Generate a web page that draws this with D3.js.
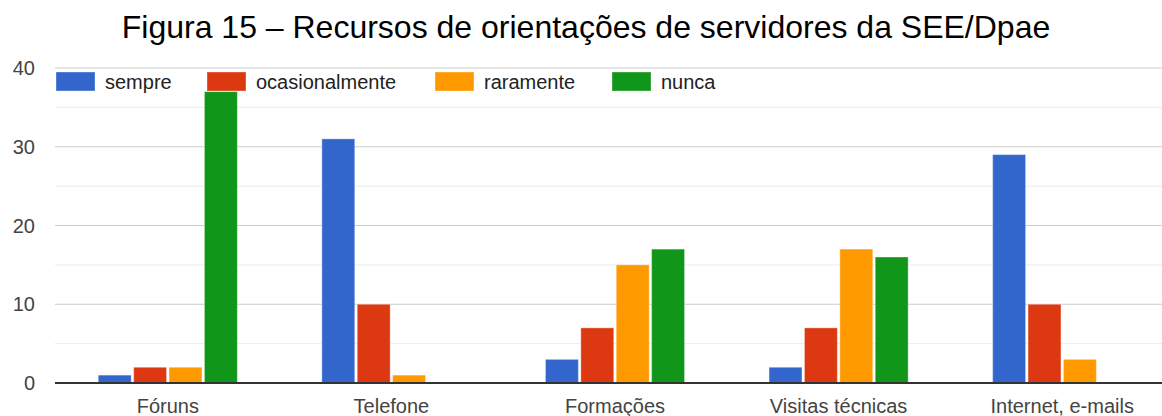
<!DOCTYPE html>
<meta charset="utf-8">
<style>
body { margin: 0; background: #fff; }
.title { font-family: "Liberation Sans", Arial, sans-serif; font-size: 32px; fill: #000; }
.tick text { font-family: "Liberation Sans", Arial, sans-serif; font-size: 20px; fill: #444; }
.legend text { font-family: "Liberation Sans", Arial, sans-serif; font-size: 20px; fill: #222; }
</style>
<body>
<script src="https://d3js.org/d3.v7.min.js"></script>
<script>

// data
var categories = ["Fóruns", "Telefone", "Formações", "Visitas técnicas", "Internet, e-mails"];
var seriesNames = ["sempre", "ocasionalmente", "raramente", "nunca"];
var sempre = [1, 31, 3, 2, 29];
var ocasionalmente = [2, 10, 7, 7, 10];
var raramente = [2, 1, 15, 17, 3];
var nunca = [37, 0, 17, 16, 0];
var colors = ["#3366cc", "#dc3912", "#ff9900", "#109618"];
var yTicks = [0, 10, 20, 30, 40];
var yMinor = [5, 15, 25, 35];

var series = [sempre, ocasionalmente, raramente, nunca];

var W = 1162, H = 416;

var svg = d3.select("body").append("svg")
    .attr("width", W)
    .attr("height", H);

// title
svg.append("text")
    .attr("class", "title")
    .attr("x", 586)
    .attr("y", 38)
    .attr("text-anchor", "middle")
    .text("Figura 15 – Recursos de orientações de servidores da SEE/Dpae");

// scales (plot runs a bit past the right edge, as in the cropped original)
var x0 = d3.scaleBand()
    .domain(categories)
    .range([56, 1174])
    .paddingInner(0.378)
    .paddingOuter(0.189);

var x1 = d3.scaleBand()
    .domain(seriesNames)
    .range([0, x0.bandwidth()])
    .paddingInner(0.07);

var y = d3.scaleLinear()
    .domain([0, 40])
    .range([383, 68]);

// gridlines
svg.append("g").selectAll("line.minor")
    .data(yMinor)
  .enter().append("line")
    .attr("x1", 55).attr("x2", W)
    .attr("y1", function(d) { return y(d); })
    .attr("y2", function(d) { return y(d); })
    .attr("stroke", "#ebebeb")
    .attr("stroke-width", 1);

svg.append("g").selectAll("line.major")
    .data(yTicks.slice(1))
  .enter().append("line")
    .attr("x1", 55).attr("x2", W)
    .attr("y1", function(d) { return y(d); })
    .attr("y2", function(d) { return y(d); })
    .attr("stroke", "#cccccc")
    .attr("stroke-width", 1);

// y axis labels
var yAxis = svg.append("g")
    .attr("transform", "translate(36,0)")
    .call(d3.axisLeft(y).tickValues(yTicks).tickSize(0).tickPadding(1));
yAxis.select(".domain").remove();
yAxis.selectAll(".tick text").attr("dy", "0.33em");

// bars
var groups = svg.append("g").selectAll("g")
    .data(categories)
  .enter().append("g")
    .attr("transform", function(d) { return "translate(" + x0(d) + ",0)"; });

groups.selectAll("rect")
    .data(function(c, i) {
      return seriesNames.map(function(s, j) { return {key: s, value: series[j][i], color: colors[j]}; });
    })
  .enter().append("rect")
    .attr("x", function(d) { return x1(d.key); })
    .attr("width", x1.bandwidth())
    .attr("y", function(d) { return y(d.value); })
    .attr("height", function(d) { return y(0) - y(d.value); })
    .attr("fill", function(d) { return d.color; })
    .attr("stroke", "rgba(255,255,255,0.35)")
    .attr("stroke-width", 1);

// baseline
svg.append("line")
    .attr("x1", 55).attr("x2", W)
    .attr("y1", y(0)).attr("y2", y(0))
    .attr("stroke", "#333")
    .attr("stroke-width", 2);

// x axis labels
var xAxis = svg.append("g")
    .attr("transform", "translate(0," + y(0) + ")")
    .call(d3.axisBottom(x0).tickSize(0).tickPadding(16));
xAxis.select(".domain").remove();
xAxis.selectAll(".tick text").attr("fill", "#222");

// legend
var legendX = [56, 207, 435, 612];
var legend = svg.append("g").attr("class", "legend")
    .selectAll("g")
    .data(seriesNames)
  .enter().append("g")
    .attr("transform", function(d, i) { return "translate(" + legendX[i] + ",72)"; });

legend.append("rect")
    .attr("width", 39)
    .attr("height", 19)
    .attr("fill", function(d, i) { return colors[i]; })
    .attr("stroke", "rgba(255,255,255,0.35)");

legend.append("text")
    .attr("x", 49)
    .attr("y", 10)
    .attr("dy", "0.35em")
    .text(function(d) { return d; });

</script>
</body>
